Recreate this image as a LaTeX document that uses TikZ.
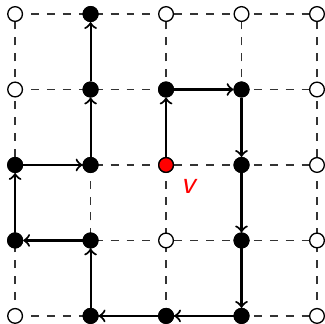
\documentclass[tikz,border=0pt]{standalone}
\usetikzlibrary{calc}

\begin{document}
\begin{tikzpicture}[
    >=to,
    site/.style={circle, draw, line width=0.5pt, minimum size=0.195cm, inner sep=0pt, fill=white},
    visited/.style={site, fill=black},
    origin/.style={site, fill=red},
    gridline/.style={dashed, line width=0.45pt, black!80},
    walk/.style={->, line width=0.8pt}
  ]
    \useasboundingbox (-0.2,-0.106) rectangle (4.106,4.186);
    \draw[gridline] (0,0) grid (4,4);
    % lattice sites
    \foreach \x in {0,...,4}
      \foreach \y in {0,...,4}
        \node[site] (n\x\y) at (\x,\y) {};
    \foreach \x/\y in {1/4, 1/3, 2/3, 3/3, 0/2, 1/2, 3/2, 0/1, 1/1, 3/1, 1/0, 2/0, 3/0}
      \node[visited] (n\x\y) at (\x,\y) {};
    \node[origin] (n22) at (2,2) {};
    \node[text=red, font=\large\sffamily\itshape] (vlabel) at ($(n22)+(0.29,-0.28)$) {v};
    % the walk
    \foreach \a/\b in {22/23, 23/33, 33/32, 32/31, 31/30, 30/20, 20/10, 10/11, 11/01, 01/02, 02/12, 12/13, 13/14}
      \draw[walk] (n\a) -- (n\b);
  \end{tikzpicture}
\end{document}
